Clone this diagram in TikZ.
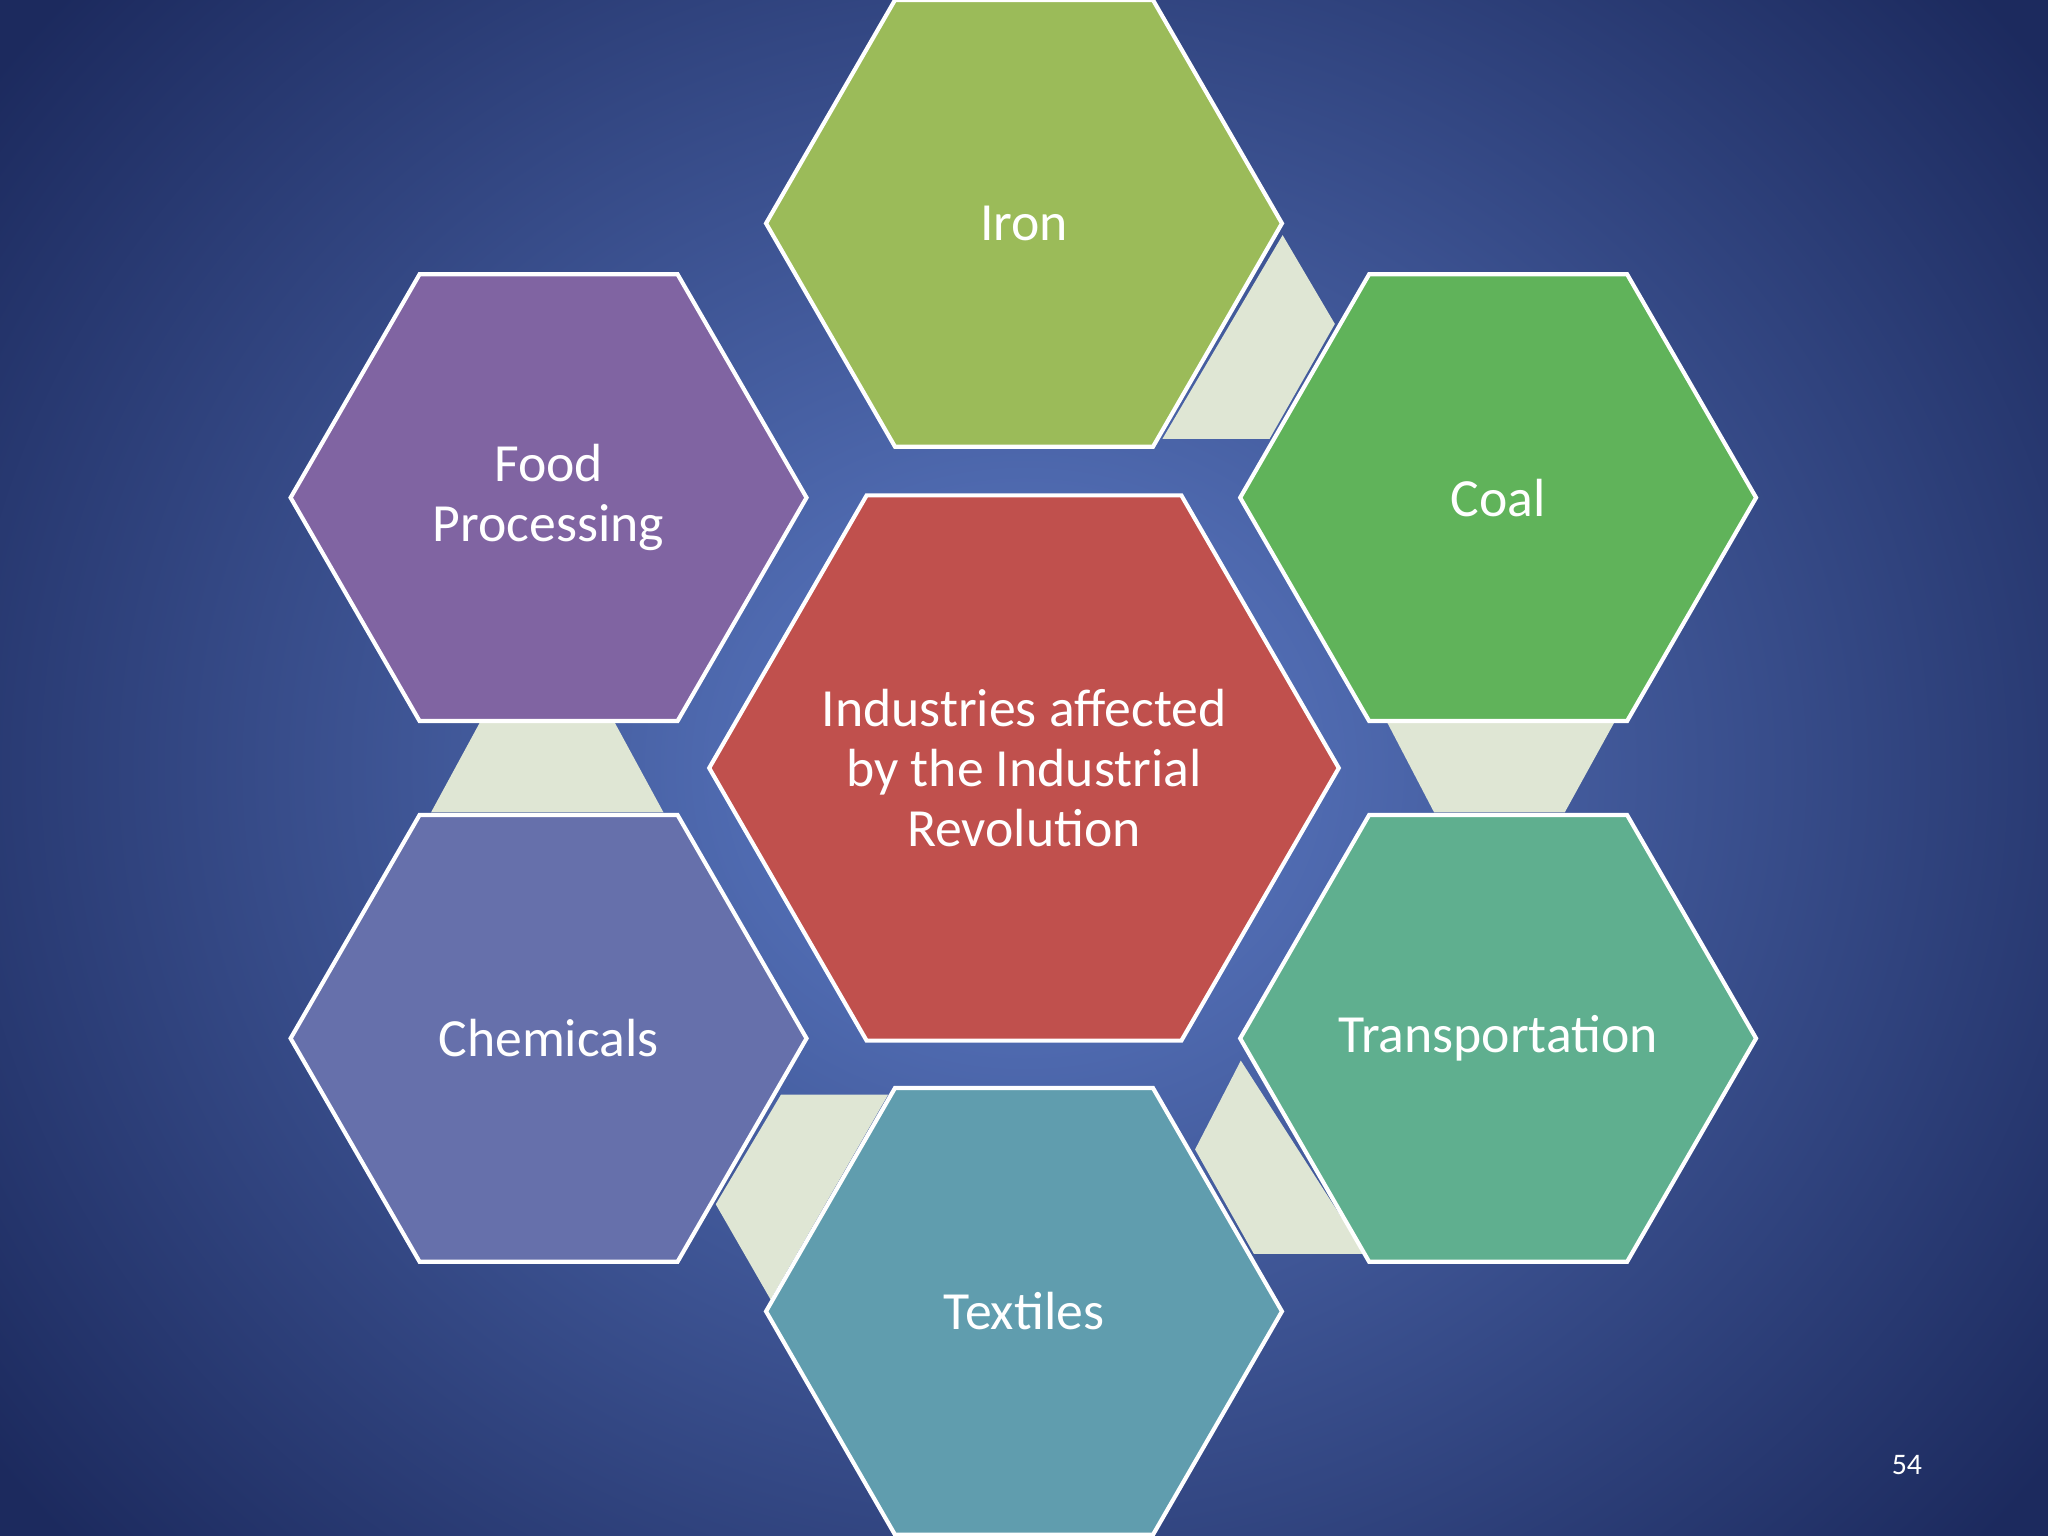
\documentclass[tikz,border=0pt]{standalone}
\usepackage{fontspec}
\setmainfont{Carlito}
\begin{document}
\begin{tikzpicture}[x=0.1mm,y=-0.1mm,
  hexe/.style={draw=white,line width=0.9pt},
  lbl/.style={text=white,font=\fontsize{11.7}{13}\selectfont,align=center},
  conn/.style={fill=connc}]
\definecolor{connc}{HTML}{DFE6D4}
\definecolor{bgin}{HTML}{5E7DC8}
\definecolor{bgout}{HTML}{1C2A5E}
\useasboundingbox (0,0) rectangle (1568,1176);
\shade[inner color=bgin,outer color=bgout] (-200,-300) rectangle (1768,1476);
\newcommand\hexa[4]{\draw[hexe,fill=#4,shift={(#1,#2)}] (0:#3)--(60:#3)--(120:#3)--(180:#3)--(240:#3)--(300:#3)--cycle;}
% connectors
\fill[conn] (982,180)--(1022,248)--(972,336)--(890,336)--cycle;
\fill[conn] (1062,553)--(1236,553)--(1198,622)--(1098,622)--cycle;
\fill[conn] (950,812)--(1045,960)--(960,960)--(915,880)--cycle;
\fill[conn] (598,838)--(680,838)--(590,995)--(548,922)--cycle;
\fill[conn] (368,552)--(470,552)--(508,622)--(330,622)--cycle;
\definecolor{cIron}{HTML}{9BBB59}
\definecolor{cCoal}{HTML}{60B35A}
\definecolor{cTr}{HTML}{5FAF8F}
\definecolor{cTex}{HTML}{609DAE}
\definecolor{cChem}{HTML}{6670AB}
\definecolor{cFood}{HTML}{8064A2}
\definecolor{cMid}{HTML}{C0504D}
\hexa{784}{171}{197.5}{cIron}
\hexa{1147}{381}{197.5}{cCoal}
\hexa{1147}{795}{197.5}{cTr}
\hexa{784}{1004}{197.5}{cTex}
\hexa{420}{795}{197.5}{cChem}
\hexa{420}{381}{197.5}{cFood}
\hexa{784}{588}{241}{cMid}
\node[lbl] (iron) at (784,171) {Iron};
\node[lbl] (coal) at (1147,381) {Coal};
\node[lbl] (tr) at (1147,795) {Transportation};
\node[lbl] (tex) at (784,1004) {Textiles};
\node[lbl] (chem) at (420,795) {Chemicals};
\node[lbl] (food) at (420,381) {Food\\Processing};
\node[lbl] (mid) at (784,588) {Industries affected\\by the Industrial\\Revolution};
\node[text=white,font=\fontsize{6.5}{8}\selectfont] (pg) at (1460,1122) {54};
\end{tikzpicture}
\end{document}
